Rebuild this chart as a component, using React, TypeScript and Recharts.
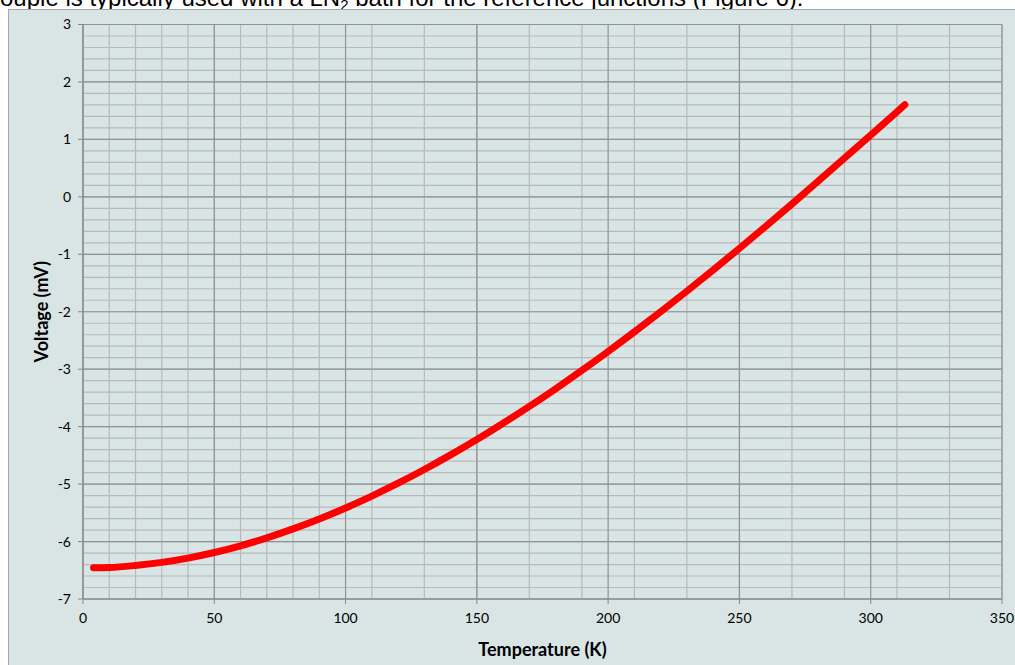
import { LineChart, Line, XAxis, YAxis, CartesianGrid } from 'recharts'

const temperature = [4, 10, 20, 30, 40, 50, 60, 70, 80, 90, 100, 110, 120, 130, 140, 150, 160, 170, 180, 190, 200, 210, 220, 230, 240, 250, 260, 270, 280, 290, 300, 310, 313]
const voltage = [-6.457, -6.452, -6.416, -6.363, -6.288, -6.191, -6.074, -5.936, -5.78, -5.607, -5.416, -5.208, -4.985, -4.746, -4.492, -4.225, -3.942, -3.648, -3.341, -3.022, -2.692, -2.351, -2.001, -1.641, -1.273, -0.897, -0.514, -0.125, 0.273, 0.673, 1.076, 1.481, 1.603]

const xTicks = [0, 50, 100, 150, 200, 250, 300, 350]
const yTicks = [-7, -6, -5, -4, -3, -2, -1, 0, 1, 2, 3]
const xMinor = Array.from({ length: 36 }, (_, i) => i * 10)
const yMinor = Array.from({ length: 51 }, (_, i) => Math.round((-7 + i * 0.2) * 10) / 10)

const data = temperature.map((t, i) => ({ t, v: voltage[i] }))

const font = 'Lato, "Open Sans", sans-serif'
const tickStyle = { fontSize: 14, fill: '#000', fontFamily: font }
const titleStyle = { fontSize: 18, fontWeight: 'bold', fill: '#000', fontFamily: font }

export default function App() {
  return (
    <div style={{ position: 'fixed', left: 0, top: 0, width: 1015, height: 665, overflow: 'hidden', background: '#fff' }}>
      <div style={{
        position: 'absolute', left: 0, top: -14, whiteSpace: 'nowrap', lineHeight: '24px',
        fontFamily: '"Liberation Sans", Arial, sans-serif', fontSize: 24, color: '#000'
      }}>
        ouple is typically used with a LN<span style={{ fontSize: 15, position: 'relative', top: 4, lineHeight: 0 }}>2</span> bath for the reference junctions (Figure 6).
      </div>
      <div style={{
        position: 'absolute', left: 8, top: 9, width: 1020, height: 670,
        background: '#d9e4e5', border: '1px solid #a0a8aa', boxSizing: 'border-box'
      }} />
      <div style={{ position: 'absolute', left: 0, top: 0 }}>
        <LineChart width={1018} height={665} data={data}
          margin={{ top: 24.5, right: 16, bottom: 9, left: 0 }}>
          <XAxis xAxisId="minor" dataKey="t" type="number" domain={[0, 350]} ticks={xMinor} hide />
          <YAxis yAxisId="minor" dataKey="v" type="number" domain={[-7, 3]} ticks={yMinor} interval={0} allowDataOverflow hide />
          <CartesianGrid xAxisId="minor" yAxisId="minor" stroke="#b6babc" strokeWidth={1.2} />
          <CartesianGrid stroke="#8f9394" strokeWidth={1.2} />
          <XAxis dataKey="t" type="number" domain={[0, 350]} ticks={xTicks} interval={0}
            axisLine={{ stroke: '#888' }} tickLine={{ stroke: '#888' }} tickSize={5}
            tick={tickStyle} tickMargin={9} height={57}
            label={{ value: 'Temperature (K)', position: 'insideBottom', offset: 0, style: titleStyle }} />
          <YAxis type="number" domain={[-7, 3]} ticks={yTicks} interval={0}
            axisLine={{ stroke: '#888' }} tickLine={{ stroke: '#888' }} tickSize={5}
            tick={tickStyle} tickMargin={7} width={83}
            label={{ value: 'Voltage (mV)', angle: -90, position: 'center', style: titleStyle }} />
          <Line dataKey="v" type="monotone" stroke="#ff0000" strokeWidth={7} strokeLinecap="round"
            dot={false} isAnimationActive={false} />
        </LineChart>
      </div>
    </div>
  )
}
